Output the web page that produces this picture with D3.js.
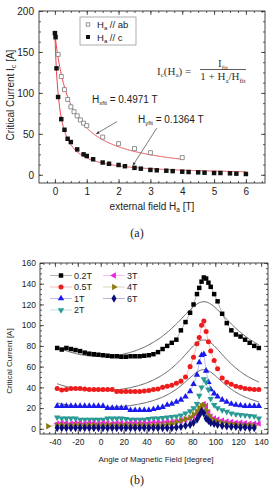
<!DOCTYPE html>
<html>
<head>
<meta charset="utf-8">
<script src="https://cdn.jsdelivr.net/npm/d3@7"></script>
<style>
  body { margin: 0; background: #fff; }
  svg { display: block; font-family: "Liberation Sans", Arial, sans-serif; }
  .axis path { display: none; }
  .axis line { stroke: #333; stroke-width: 0.8; }
  .axis text { fill: #222; }
</style>
</head>
<body>
<svg id="chart" width="274" height="488"></svg>
<script>
// ---- (a) Ic vs external field ----
const fieldC = [0, 0.02, 0.05, 0.1, 0.2, 0.3, 0.4, 0.5, 0.7, 0.9, 1.0, 1.2, 1.5, 1.7, 2.0, 2.2, 2.5, 2.7,
  3.0, 3.2, 3.5, 3.7, 4.0, 4.2, 4.5, 4.7, 5.0, 5.2, 5.5, 5.7, 6.0];
const currentC = [173, 168, 130, 95, 68, 55, 44, 40, 31, 25, 23, 19, 15, 13.5, 12, 10.5, 8.5, 7.5,
  6, 5.5, 5, 4.5, 3.8, 3.4, 3, 2.6, 2.2, 2.2, 1.8, 1.4, 1];
const fieldAb = [0.1, 0.2, 0.3, 0.4, 0.5, 0.6, 0.7, 0.8, 0.9, 1.0, 1.5, 2.0, 2.5, 3.0, 4.0];
const currentAb = [147, 120, 104, 92, 83, 77, 72, 67, 63, 60, 46, 38, 32, 27, 21];

// fit  Ic(Ha) = Ifit / (1 + Ha/Hfit)
const iFit = 172;
const hFitAb = 0.4971;
const hFitC = 0.1364;

// ---- (b) Ic vs angle ----
const angles = [-46, -38, -34, -30, -26, -22, -18, -14, -10, -6, -2, 2, 6, 10, 14, 18, 22, 26, 30, 34, 38,
  42, 46, 50, 54, 58, 62, 66, 70, 74, 78, 81, 84, 86, 88, 90, 92, 94, 96, 99, 102, 106, 110, 114,
  118, 122, 126, 130, 134, 138];
const seriesNames = ['0.2T', '0.5T', '1T', '2T', '3T', '4T', '6T'];
const ic02 = [null, 78, 76.5, 78, 77, 76, 75, 73.5, 72.5, 72, 71.5, 71, 70.5, 70, 70, 69.5, 69.5, 70, 70, 70, 70.5,
  71, 72, 74, 77, 80, 83, 86, 95, 103, 112, 120, 130, 136, 142, 146, 145, 141, 137, 130, 123, 111, 102, 95,
  91, 89, 86, 83, 80, 78];
const ic05 = [null, 39, 37.5, 38, 39, 39, 39, 38.5, 38, 38, 38, 38, 38, 38, 36, 36, 36, 36, 36, 36, 36.5,
  37, 38, 38.5, 40, 41, 42, 44, 46, 50, 60, 69, 82, 88, 100, 104, 94, 84, 75, 66, 58, 49, 45, 43,
  41, 40, 39, 38.5, 38, 38];
const ic1 = [null, 22, 22, 22, 22, 22, 22, 22, 22, 22, 22, 22, 20, 20, 20, 20, 20, 18, 18, 18, 18,
  18, 19, 20, 21, 23, 24, 26, 28, 31, 36, 43, 52, 64, 71, 72, 56, 45, 38, 34, 31, 28, 26, 24,
  23, 22.5, 22, 22, 22, 22];
const ic2 = [null, 11, 10, 10, 10, 10, 9, 9, 9, 9, 9, 9, 10, 10, 10, 10, 9.5, 9, 9, 9, 9,
  9.5, 10, 10, 10.5, 11, 11.5, 12, 13, 15, 17, 20, 24, 32, 40, 48, 45, 38, 29, 23, 20, 18, 16.5, 15,
  14, 13.5, 13, 12.5, 12, 10];
const ic3 = [null, 5, 5.5, 5.5, 5, 5.5, 5.5, 5, 5.5, 5.5, 5, 5.5, 5.5, 5, 5.5, 5.5, 5, 5.5, 5.5, 5.5, 5.5,
  5.5, 6, 6, 6, 6.5, 6.5, 7, 8, 9, 10, 12, 14, 16, 20, 24, 22, 16, 12, 10, 9, 8, 7, 6.5,
  6, 6, 5.5, 5, 5, 5];
const ic4 = [2.5, 3.5, 3.5, 3.5, 3.5, 3.5, 3.5, 3.5, 3.5, 3.5, 3.5, 3.5, 3.5, 3.5, 3.5, 3.5, 3.5, 3.5, 3.5, 3.5, 3.5,
  3.5, 3.5, 3.5, 4, 4.5, 5, 6.5, 8, 9.5, 11, 14, 17, 20, 22, 23, 18, 13, 10, 8, 7, 6, 5, 4.5,
  4, 4, 3.5, 3.5, 3, null];
const ic6 = [null, 1, 1, 1, 1, 1, 1, 1, 1, 1, 1, 1, 1, 1, 1, 1, 1, 1, 1, 1, 1,
  1, 1, 1, 1, 1, 1, 1.5, 2, 3, 4, 6, 9, 13, 17, 15, 10, 8, 6, 5, 4, 3, 2.5, 2,
  2, 1.5, 1.5, 1, 1, null];
const seriesValues = [ic02, ic05, ic1, ic2, ic3, ic4, ic6];
const fitFields = [0.2, 0.5, 1];

const colors = ['#000000', '#ee1c1c', '#1a1aee', '#2a9a94', '#ee22dd', '#8a7a10', '#0c0c7a'];
const shapes = [
  { type: d3.symbolSquare, rot: 0, size: 20 },
  { type: d3.symbolCircle, rot: 0, size: 20 },
  { type: d3.symbolTriangle, rot: 0, size: 18 },
  { type: d3.symbolTriangle, rot: 180, size: 18 },
  { type: d3.symbolTriangle, rot: -90, size: 18 },
  { type: d3.symbolTriangle, rot: 90, size: 18 },
  { type: d3.symbolDiamond, rot: 0, size: 22 }
];

const svg = d3.select('#chart');
const intFmt = d => String(d);   // plain hyphen for negatives, like the original

function frameAxes(g, x, y, o) {
  const [x0, x1] = x.range();
  const [y0, y1] = y.range();
  g.append('rect')
    .attr('x', x0).attr('y', y1).attr('width', x1 - x0).attr('height', y0 - y1)
    .attr('fill', 'none').attr('stroke', '#333').attr('stroke-width', 0.9);

  // bottom + top
  g.append('g').attr('class', 'axis').attr('transform', `translate(0,${y0})`)
    .call(d3.axisBottom(x).tickValues(o.xMinor).tickSize(-2).tickFormat(''));
  g.append('g').attr('class', 'axis').attr('transform', `translate(0,${y0})`)
    .style('font-size', o.fs + 'px')
    .call(d3.axisBottom(x).tickValues(o.xMajor).tickSize(-4).tickPadding(o.xPad).tickFormat(intFmt));
  g.append('g').attr('class', 'axis').attr('transform', `translate(0,${y1})`)
    .call(d3.axisTop(x).tickValues(o.xMinor).tickSize(-2).tickFormat(''));
  g.append('g').attr('class', 'axis').attr('transform', `translate(0,${y1})`)
    .call(d3.axisTop(x).tickValues(o.xMajor).tickSize(-4).tickFormat(''));

  // left + right
  g.append('g').attr('class', 'axis').attr('transform', `translate(${x0},0)`)
    .call(d3.axisLeft(y).tickValues(o.yMinor).tickSize(-2).tickFormat(''));
  g.append('g').attr('class', 'axis').attr('transform', `translate(${x0},0)`)
    .style('font-size', o.fs + 'px')
    .call(d3.axisLeft(y).tickValues(o.yMajor).tickSize(-4).tickPadding(o.yPad).tickFormat(intFmt));
  g.append('g').attr('class', 'axis').attr('transform', `translate(${x1},0)`)
    .call(d3.axisRight(y).tickValues(o.yMinor).tickSize(-2).tickFormat(''));
  g.append('g').attr('class', 'axis').attr('transform', `translate(${x1},0)`)
    .call(d3.axisRight(y).tickValues(o.yMajor).tickSize(-4).tickFormat(''));
}

// text with subscripts: parts = [[text, isSub], ...]
function sub(sel, parts, subSize, shift) {
  let prevSub = false;
  parts.forEach(([t, s]) => {
    const ts = sel.append('tspan').text(t);
    if (s && !prevSub) ts.attr('dy', shift);
    if (!s && prevSub) ts.attr('dy', -shift);
    if (s) ts.attr('font-size', subSize);
    prevSub = s;
  });
  return sel;
}

// ================= chart (a) =================
const xa = d3.scaleLinear().domain([-0.5, 6.6]).range([39, 265]);
const ya = d3.scaleLinear().domain([-10, 200]).range([183, 11]);
const ga = svg.append('g');

frameAxes(ga, xa, ya, {
  xMajor: d3.range(0, 7, 1), xMinor: d3.range(-0.25, 6.6, 0.25),
  yMajor: d3.range(0, 201, 50), yMinor: d3.range(0, 200.1, 12.5),
  fs: 10, xPad: 5, yPad: 5
});

const fitLine = (hFit) => d3.line()
  .x(h => xa(h))
  .y(h => ya(iFit / (1 + h / hFit)));

ga.append('path').datum(d3.range(0, 4.0001, 0.01))
  .attr('d', fitLine(hFitAb)).attr('fill', 'none').attr('stroke', '#e8404a').attr('stroke-width', 1);
ga.append('path').datum(d3.range(0, 6.0001, 0.01))
  .attr('d', fitLine(hFitC)).attr('fill', 'none').attr('stroke', '#e8404a').attr('stroke-width', 1);

ga.selectAll('.pc').data(fieldC).join('path')
  .attr('transform', (d, i) => `translate(${xa(d)},${ya(currentC[i])})`)
  .attr('d', d3.symbol().type(d3.symbolSquare).size(20)).attr('fill', '#111');
ga.selectAll('.pab').data(fieldAb).join('path')
  .attr('transform', (d, i) => `translate(${xa(d)},${ya(currentAb[i])})`)
  .attr('d', d3.symbol().type(d3.symbolSquare).size(16)).attr('fill', '#fff')
  .attr('stroke', '#777').attr('stroke-width', 0.8);

// legend (a)
ga.append('rect').attr('x', 80).attr('y', 17).attr('width', 56).attr('height', 28)
  .attr('fill', '#fff').attr('stroke', '#999').attr('stroke-width', 0.8);
ga.append('path').attr('transform', 'translate(88,24.5)').attr('d', d3.symbol().type(d3.symbolSquare).size(12))
  .attr('fill', '#fff').attr('stroke', '#777').attr('stroke-width', 0.8);
ga.append('path').attr('transform', 'translate(88,37)').attr('d', d3.symbol().type(d3.symbolSquare).size(16))
  .attr('fill', '#111');
sub(ga.append('text').attr('x', 97).attr('y', 27.5).attr('font-size', 9.5).attr('fill', '#222'),
  [['H', false], ['a', true], [' // ab', false]], 6, 2.5);
sub(ga.append('text').attr('x', 97).attr('y', 40.5).attr('font-size', 9.5).attr('fill', '#222'),
  [['H', false], ['a', true], [' // c', false]], 6, 2.5);

// formula
const serif = '"Liberation Serif", "Times New Roman", serif';
sub(ga.append('text').attr('x', 157).attr('y', 74.5).attr('font-family', serif).attr('font-size', 11).attr('fill', '#333'),
  [['I', false], ['c', true], ['(H', false], ['a', true], [') =', false]], 7, 2.5);
sub(ga.append('text').attr('x', 223).attr('y', 67).attr('text-anchor', 'middle').attr('font-family', serif).attr('font-size', 11).attr('fill', '#333'),
  [['I', false], ['fit', true]], 7, 2.5);
ga.append('line').attr('x1', 200).attr('x2', 246).attr('y1', 69.5).attr('y2', 69.5).attr('stroke', '#333').attr('stroke-width', 0.8);
sub(ga.append('text').attr('x', 223).attr('y', 80).attr('text-anchor', 'middle').attr('font-family', serif).attr('font-size', 11).attr('fill', '#333'),
  [['1 + H', false], ['a', true], ['/H', false], ['fit', true]], 7, 2.5);

// annotations with arrows
svg.append('defs').append('marker').attr('id', 'arr')
  .attr('viewBox', '0 0 10 10').attr('refX', 9).attr('refY', 5)
  .attr('markerWidth', 5).attr('markerHeight', 5).attr('orient', 'auto')
  .append('path').attr('d', 'M0,1 L10,5 L0,9 Z').attr('fill', '#333');

sub(ga.append('text').attr('x', 92).attr('y', 103).attr('font-size', 10).attr('fill', '#222'),
  [['H', false], ['xfit', true], [' = 0.4971 T', false]], 6, 2);
sub(ga.append('text').attr('x', 138).attr('y', 122.5).attr('font-size', 10).attr('fill', '#222'),
  [['H', false], ['yfit', true], [' = 0.1364 T', false]], 6, 2);

const tipAb = 1.3, tipC = 2.45;
ga.append('line')
  .attr('x1', xa(1.95)).attr('y1', ya(65))
  .attr('x2', xa(tipAb)).attr('y2', ya(iFit / (1 + tipAb / hFitAb)) - 2)
  .attr('stroke', '#444').attr('stroke-width', 0.7).attr('marker-end', 'url(#arr)');
ga.append('line')
  .attr('x1', xa(3.2)).attr('y1', ya(57))
  .attr('x2', xa(tipC)).attr('y2', ya(iFit / (1 + tipC / hFitC)) - 2)
  .attr('stroke', '#444').attr('stroke-width', 0.7).attr('marker-end', 'url(#arr)');

// axis titles (a)
sub(svg.append('text').attr('transform', 'translate(14,95) rotate(-90)').attr('text-anchor', 'middle')
  .attr('font-size', 10).attr('fill', '#222'),
  [['Critical Current  I', false], ['c', true], [' [A]', false]], 7, 2);
sub(svg.append('text').attr('x', 152).attr('y', 210).attr('text-anchor', 'middle')
  .attr('font-size', 10).attr('fill', '#222'),
  [['external field H', false], ['a', true], [' [T]', false]], 6.5, 2);

svg.append('text').attr('x', 137).attr('y', 237).attr('text-anchor', 'middle')
  .attr('font-family', serif).attr('font-size', 12).attr('fill', '#222').text('(a)');

// ================= chart (b) =================
const xb = d3.scaleLinear().domain([-53, 146]).range([40, 268]);
const yb = d3.scaleLinear().domain([-5, 160]).range([434, 263]);
const gb = svg.append('g');

frameAxes(gb, xb, yb, {
  xMajor: d3.range(-40, 141, 20), xMinor: d3.range(-50, 146, 5),
  yMajor: d3.range(0, 161, 20), yMinor: d3.range(0, 160.1, 5),
  fs: 8.5, xPad: 5, yPad: 4
});

// fits from (a): anisotropic effective field
const fitAngles = d3.range(-38, 138.01, 1);
const fitAt = (h, th) => {
  const r = th * Math.PI / 180;
  const inv = Math.sqrt(Math.pow(Math.cos(r) / hFitC, 2) + Math.pow(Math.sin(r) / hFitAb, 2));
  return iFit / (1 + h * inv);
};
fitFields.forEach(h => {
  gb.append('path').datum(fitAngles)
    .attr('d', d3.line().x(a => xb(a)).y(a => yb(fitAt(h, a))))
    .attr('fill', 'none').attr('stroke', '#555').attr('stroke-width', 0.9);
});

seriesValues.forEach((vals, si) => {
  const c = colors[si];
  const pts = angles.map((a, i) => [a, vals[i]]).filter(p => p[1] != null);
  gb.append('path').datum(pts)
    .attr('d', d3.line().x(p => xb(p[0])).y(p => yb(p[1])))
    .attr('fill', 'none').attr('stroke', c).attr('stroke-width', 0.5).attr('opacity', 0.6);
  const sh = shapes[si];
  const sym = d3.symbol().type(sh.type).size(sh.size);
  gb.append('g').selectAll('path').data(pts).join('path')
    .attr('transform', p => `translate(${xb(p[0])},${yb(p[1])}) rotate(${sh.rot})`)
    .attr('d', sym).attr('fill', c);
});

// legend (b)
const legX = [50, 103];
const legY = [275.5, 287, 298.5, 310];
seriesNames.forEach((name, si) => {
  const col = si < 4 ? 0 : 1;
  const row = si < 4 ? si : si - 4;
  const lx = legX[col], ly = legY[row];
  gb.append('line').attr('x1', lx).attr('x2', lx + 22).attr('y1', ly).attr('y2', ly)
    .attr('stroke', colors[si]).attr('stroke-width', 0.5).attr('opacity', 0.6);
  const sh = shapes[si];
  gb.append('path').attr('transform', `translate(${lx + 11},${ly}) rotate(${sh.rot})`)
    .attr('d', d3.symbol().type(sh.type).size(sh.size)).attr('fill', colors[si]);
  gb.append('text').attr('x', lx + 24).attr('y', ly + 3.3).attr('font-size', 9)
    .attr('fill', '#222').text(name);
});

// axis titles (b)
svg.append('text').attr('transform', 'translate(12,361) rotate(-90)').attr('text-anchor', 'middle')
  .attr('font-size', 8).attr('fill', '#222').text('Critical Current [A]');
svg.append('text').attr('x', 156).attr('y', 462).attr('text-anchor', 'middle')
  .attr('font-size', 8).attr('fill', '#222').text('Angle of Magnetic Field [degree]');

svg.append('text').attr('x', 137).attr('y', 484).attr('text-anchor', 'middle')
  .attr('font-family', serif).attr('font-size', 12).attr('fill', '#222').text('(b)');
</script>
</body>
</html>
